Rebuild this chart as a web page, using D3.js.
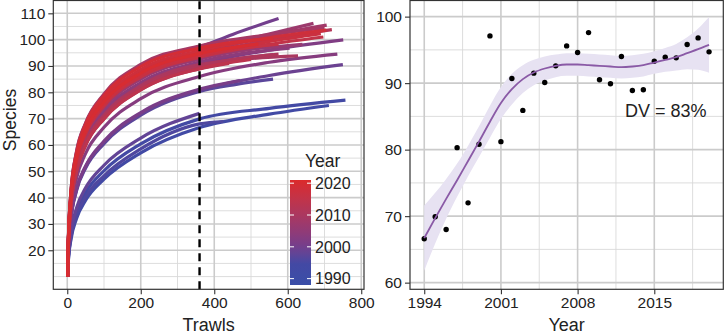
<!DOCTYPE html>
<html>
<head>
<meta charset="utf-8">
<script src="https://cdn.jsdelivr.net/npm/d3@7/dist/d3.min.js"></script>
<style>
  body { margin: 0; background: #fff; }
  text { font-family: 'Liberation Sans', Arial, sans-serif; }
</style>
</head>
<body>
<div id="chart"></div>
<script>
const WIDTH = 724;
const HEIGHT = 334;

// ---- left panel: rarefaction curves ----
const curveYears = [1994, 1995, 1996, 1997, 1998, 1999, 2000, 2001, 2002, 2003, 2004, 2005, 2006, 2007,
  2008, 2009, 2010, 2011, 2012, 2013, 2014, 2015, 2016, 2017, 2018, 2019, 2020];

// species read at these trawl counts, one row per year
const ckTrawls = [1, 3, 10, 25, 50, 100, 200, 360];
const ckSpecies = [
  [10, 16.0, 24.0, 32.0, 39.0, 47.0, 57.0, 66.6],
  [10, 16.8, 25.7, 34.4, 41.9, 50.2, 60.4, 69.9],
  [10, 16.3, 24.8, 33.0, 40.3, 48.3, 58.5, 68.0],
  [10, 19.5, 31.6, 42.5, 51.2, 60.5, 71.3, 80.3],
  [10, 17.4, 26.9, 36.0, 43.7, 52.3, 62.6, 72.0],
  [10, 19.6, 31.8, 42.9, 51.7, 61.1, 71.9, 80.8],
  [10, 24.0, 42.0, 57.1, 68.1, 79.0, 90.1, 97.1],
  [10, 19.8, 32.1, 43.2, 52.0, 61.5, 72.3, 81.2],
  [10, 22.3, 37.9, 51.3, 61.4, 71.7, 82.8, 90.7],
  [10, 21.1, 35.0, 47.2, 56.8, 66.7, 77.6, 86.0],
  [10, 22.5, 38.4, 52.1, 62.2, 72.7, 83.7, 91.5],
  [10, 22.1, 37.5, 50.7, 60.8, 71.1, 82.2, 90.1],
  [10, 22.8, 39.2, 53.1, 63.4, 74.0, 85.0, 92.6],
  [10, 23.6, 41.2, 55.9, 66.4, 77.2, 88.4, 95.6],
  [10, 23.4, 40.4, 54.9, 65.5, 76.2, 87.2, 94.6],
  [10, 24.1, 42.3, 57.4, 68.4, 79.4, 90.6, 97.6],
  [10, 22.2, 37.7, 51.0, 61.1, 71.4, 82.5, 90.5],
  [10, 22.0, 37.4, 50.6, 60.7, 70.9, 82.0, 89.9],
  [10, 23.2, 40.1, 54.5, 64.9, 75.6, 86.6, 94.0],
  [10, 21.8, 36.8, 49.8, 59.8, 69.9, 80.9, 88.9],
  [10, 21.8, 36.9, 49.9, 59.9, 70.0, 81.0, 89.0],
  [10, 23.0, 39.6, 53.8, 64.1, 74.8, 85.8, 93.3],
  [10, 23.2, 40.1, 54.4, 64.8, 75.5, 86.5, 93.9],
  [10, 23.2, 40.0, 54.3, 64.7, 75.4, 86.4, 93.8],
  [10, 23.7, 41.3, 56.0, 66.5, 77.4, 88.6, 95.8],
  [10, 23.9, 41.9, 56.8, 67.8, 78.7, 89.8, 96.8],
  [10, 23.4, 40.4, 54.9, 65.5, 76.3, 87.3, 94.7]
];

// rest of each curve past 360 trawls
const tailTrawls = [
  [550, 712], [550, 757], [425], [460, 560], [], [550, 750], [450, 575], [470], [550, 751],
  [550, 735], [605], [560], [640], [500, 670], [550, 706], [550, 700], [628], [575],
  [550, 720], [440], [500], [550, 697], [575], [550, 690], [550, 705], [560], [520]
];
const tailSpecies = [
  [71.7, 75.0], [73.9, 77.0], [68.9], [83.0, 85.0], [], [86.4, 90.5], [102.0, 108.0], [84.5], [96.0, 99.9],
  [91.4, 94.5], [96.8], [94.3], [98.2], [100.5, 106.2], [101.5, 105.5], [101.9, 104.5], [93.8], [94.5],
  [100.0, 103.8], [91.0], [92.5], [98.2, 101.0], [98.3], [99.3, 102.3], [100.7, 103.6], [100.5], [98.3]
];

const trawlTicks = [0, 200, 400, 600, 800];
const trawlMinor = [100, 300, 500, 700];
const speciesTicks = [20, 30, 40, 50, 60, 70, 80, 90, 100, 110];
const speciesMinor = [10, 15, 25, 35, 45, 55, 65, 75, 85, 95, 105, 115];
const cutoff = 360;
const legendYears = [1990, 2000, 2010, 2020];
const yearRange = [1988, 2021];
const colourYears = [1988, 1995, 2001, 2021];
const colourStops = ["#3a4ea8", "#4349a4", "#7a3d88", "#db2a2c"];

// ---- right panel: species at 360 trawls ----
const ptYears = [1994, 1995, 1996, 1997, 1998, 1999, 2000, 2001, 2002, 2003, 2004, 2005, 2006, 2007,
  2008, 2009, 2010, 2011, 2012, 2013, 2014, 2015, 2016, 2017, 2018, 2019, 2020];
const ptSpecies = [66.6, 69.9, 68.0, 80.3, 72.0, 80.8, 97.1, 81.2, 90.7, 85.9, 91.5, 90.1, 92.6, 95.6,
  94.6, 97.6, 90.5, 89.9, 94.0, 88.9, 89.0, 93.3, 93.9, 93.8, 95.8, 96.8, 94.7];
const fitMid = [66.7, 69.7, 72.6, 75.4, 78.3, 81.2, 84.2, 87.0, 89.1, 90.6, 91.6, 92.2, 92.6, 92.8,
  92.8, 92.7, 92.6, 92.5, 92.4, 92.5, 92.7, 93.1, 93.5, 93.9, 94.5, 95.1, 95.75];
const fitHalf = [4.9, 3.8, 3.0, 2.5, 2.3, 2.3, 2.4, 2.4, 2.3, 2.1, 1.9, 1.8, 1.7, 1.7,
  1.7, 1.7, 1.7, 1.7, 1.7, 1.7, 1.7, 1.7, 1.8, 2.0, 2.4, 3.1, 4.2];
const yearTicks = [1994, 2001, 2008, 2015];
const yearMinor = [1997.5, 2004.5, 2011.5, 2018.5];
const richTicks = [60, 70, 80, 90, 100];
const richMinor = [65, 75, 85, 95];
const dvLabel = "DV = 83%";

const MAJOR = "#cbcbcb", MINOR = "#d9d9d9", INK = "#333";

const svg = d3.select("#chart").append("svg")
  .attr("width", WIDTH).attr("height", HEIGHT);
svg.append("rect").attr("width", WIDTH).attr("height", HEIGHT).attr("fill", "#fff");

const color = d3.scaleLinear().domain(colourYears)
  .range(colourStops).interpolate(d3.interpolateLab);

var drawGrid = function (g, x, y, xMaj, xMin, yMaj, yMin) {
  const [x0, x1] = x.range(), [y0, y1] = y.range();
  g.selectAll(".vmin").data(xMin).enter().append("line")
    .attr("x1", d => x(d)).attr("x2", d => x(d)).attr("y1", y0).attr("y2", y1)
    .attr("stroke", MINOR).attr("stroke-width", 0.9);
  g.selectAll(".hmin").data(yMin).enter().append("line")
    .attr("y1", d => y(d)).attr("y2", d => y(d)).attr("x1", x0).attr("x2", x1)
    .attr("stroke", MINOR).attr("stroke-width", 0.9);
  g.selectAll(".vmaj").data(xMaj).enter().append("line")
    .attr("x1", d => x(d)).attr("x2", d => x(d)).attr("y1", y0).attr("y2", y1)
    .attr("stroke", MAJOR).attr("stroke-width", 1.6);
  g.selectAll(".hmaj").data(yMaj).enter().append("line")
    .attr("y1", d => y(d)).attr("y2", d => y(d)).attr("x1", x0).attr("x2", x1)
    .attr("stroke", MAJOR).attr("stroke-width", 1.6);
};

var drawAxes = function (x, y, xTicks, yTicks, xFmt) {
  const [x0, x1] = x.range(), [y0, y1] = y.range();
  const ax = svg.append("g").attr("transform", "translate(0," + y0 + ")")
    .call(d3.axisBottom(x).tickValues(xTicks).tickSize(5).tickPadding(3).tickFormat(xFmt));
  const ay = svg.append("g").attr("transform", "translate(" + x0 + ",0)")
    .call(d3.axisLeft(y).tickValues(yTicks).tickSize(5).tickPadding(3));
  [ax, ay].forEach(a => {
    a.select(".domain").remove();
    a.selectAll(".tick line").attr("stroke", INK).attr("stroke-width", 1.1);
    a.selectAll("text").attr("fill", "#222").style("font-size", "15.5px")
      .style("font-family", "'Liberation Sans', Arial, sans-serif");
  });
  svg.append("rect").attr("x", x0).attr("y", y1 + 0.5)
    .attr("width", x1 - x0).attr("height", y0 - y1 - 0.5)
    .attr("fill", "none").attr("stroke", INK).attr("stroke-width", 1.2);
};

// ===== left panel =====
const xL = d3.scaleLinear().domain([-38, 807.5]).range([53.3, 364]);
const yL = d3.scaleLinear().domain([5.17, 115.06]).range([289.3, 0]);

drawGrid(svg.append("g"), xL, yL, trawlTicks, trawlMinor, speciesTicks, speciesMinor);

const line = d3.line().x(d => xL(d[0])).y(d => yL(d[1])).curve(d3.curveMonotoneX);

const curves = curveYears.map((yr, i) => {
  const pts = ckTrawls.map((t, j) => [t, ckSpecies[i][j]]);
  tailTrawls[i].forEach((t, j) => pts.push([t, tailSpecies[i][j]]));
  return { year: yr, pts: pts };
});

svg.append("g").selectAll("path").data(curves).enter().append("path")
  .attr("d", d => line(d.pts))
  .attr("fill", "none")
  .attr("stroke", d => color(d.year))
  .attr("stroke-width", 3.2);

svg.append("line")
  .attr("x1", xL(cutoff)).attr("x2", xL(cutoff))
  .attr("y1", yL.range()[0]).attr("y2", yL.range()[1])
  .attr("stroke", "#000").attr("stroke-width", 2.4).attr("stroke-dasharray", "8,6");

// legend colour bar
const legY = d3.scaleLinear().domain(yearRange).range([285, 180]);
const grad = svg.append("defs").append("linearGradient").attr("id", "yeargrad")
  .attr("x1", 0).attr("x2", 0).attr("y1", 1).attr("y2", 0);
d3.range(0, 1.0001, 0.05).forEach(f => {
  grad.append("stop").attr("offset", f)
    .attr("stop-color", color(yearRange[0] + f * (yearRange[1] - yearRange[0])));
});
const leg = svg.append("g");
leg.append("rect").attr("x", 290).attr("y", legY(yearRange[1]))
  .attr("width", 21).attr("height", legY(yearRange[0]) - legY(yearRange[1]))
  .attr("fill", "url(#yeargrad)");
legendYears.forEach(yr => {
  leg.append("line").attr("x1", 290).attr("x2", 294).attr("y1", legY(yr)).attr("y2", legY(yr))
    .attr("stroke", "#fff").attr("stroke-width", 1);
  leg.append("line").attr("x1", 307).attr("x2", 311).attr("y1", legY(yr)).attr("y2", legY(yr))
    .attr("stroke", "#fff").attr("stroke-width", 1);
  leg.append("text").attr("x", 315).attr("y", legY(yr)).attr("dy", "0.36em")
    .attr("fill", "#222").style("font-size", "16px").text(yr);
});
leg.append("text").attr("x", 305).attr("y", 167).attr("fill", "#222")
  .style("font-size", "17.5px").text("Year");

drawAxes(xL, yL, trawlTicks, speciesTicks, d3.format("d"));

svg.append("text").attr("x", (xL.range()[0] + xL.range()[1]) / 2).attr("y", 331)
  .attr("text-anchor", "middle").attr("fill", "#222").style("font-size", "18px").text("Trawls");
svg.append("text").attr("transform", "translate(15.5,120) rotate(-90)")
  .attr("text-anchor", "middle").attr("fill", "#222").style("font-size", "17.5px").text("Species");

// ===== right panel =====
const xR = d3.scaleLinear().domain([1992.7, 2021.3]).range([410, 723.3]);
const yR = d3.scaleLinear().domain([59.0, 102.5]).range([289.3, 0]);

drawGrid(svg.append("g"), xR, yR, yearTicks, yearMinor, richTicks, richMinor);

const fit = ptYears.map((yr, i) => ({ year: yr, mid: fitMid[i], lo: fitMid[i] - fitHalf[i], hi: fitMid[i] + fitHalf[i] }));

svg.append("path").datum(fit)
  .attr("d", d3.area().x(d => xR(d.year)).y0(d => yR(d.lo)).y1(d => yR(d.hi)).curve(d3.curveMonotoneX))
  .attr("fill", "#e7e2f2");

svg.append("g").selectAll("circle").data(ptYears).enter().append("circle")
  .attr("cx", d => xR(d)).attr("cy", (d, i) => yR(ptSpecies[i]))
  .attr("r", 2.7).attr("fill", "#000");

svg.append("path").datum(fit)
  .attr("d", d3.line().x(d => xR(d.year)).y(d => yR(d.mid)).curve(d3.curveMonotoneX))
  .attr("fill", "none").attr("stroke", "#8a5aa6").attr("stroke-width", 1.8);

svg.append("text").attr("x", 625).attr("y", 117).attr("fill", "#222")
  .style("font-size", "18px").text(dvLabel);

drawAxes(xR, yR, yearTicks, richTicks, d3.format("d"));

svg.append("text").attr("x", (xR.range()[0] + xR.range()[1]) / 2).attr("y", 331)
  .attr("text-anchor", "middle").attr("fill", "#222").style("font-size", "18px").text("Year");
</script>
</body>
</html>
